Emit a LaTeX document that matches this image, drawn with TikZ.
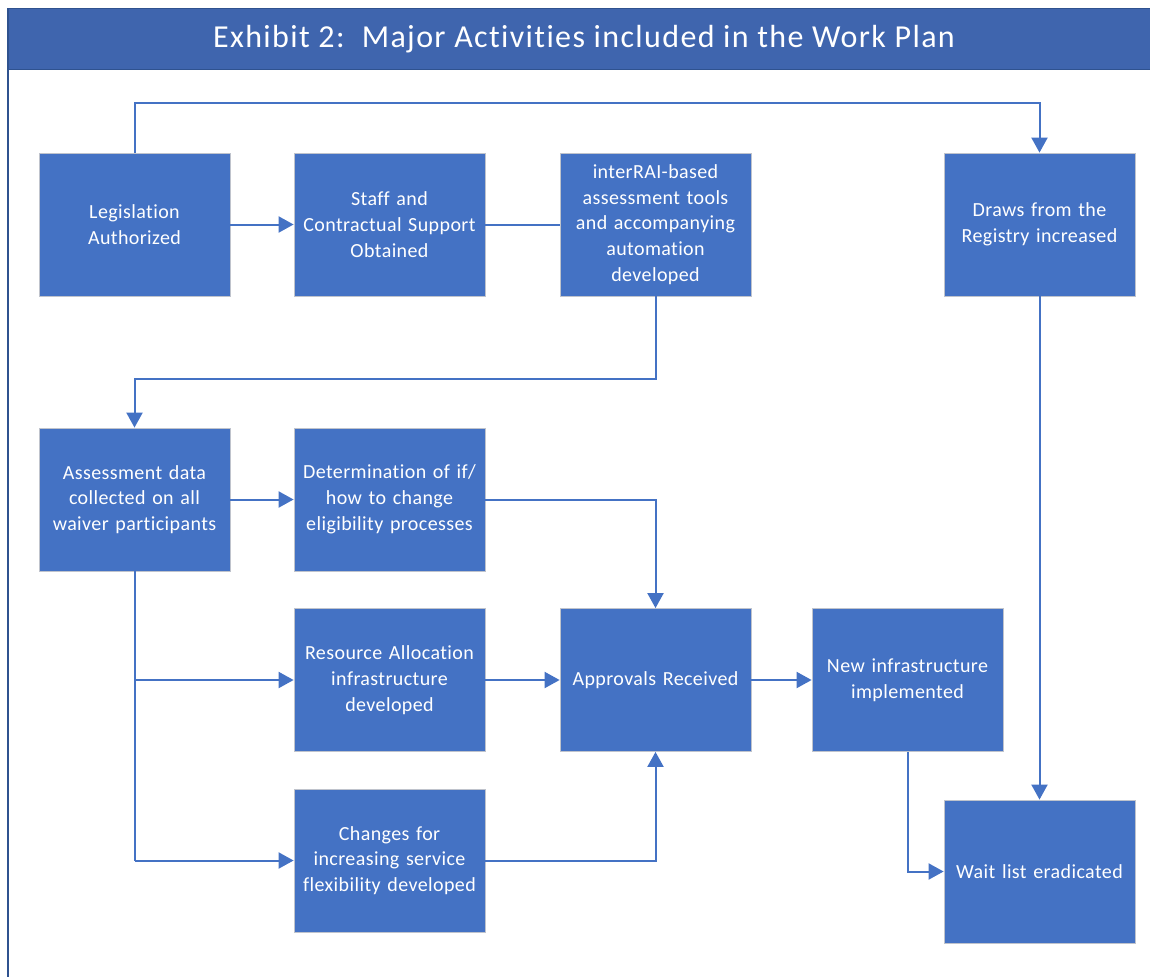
\documentclass[tikz,border=0pt]{standalone}
\usepackage{fontspec}
\setmainfont{Carlito}[LetterSpace=2, Ligatures=NoCommon]
\newfontfamily\titlefont{Carlito}[LetterSpace=4.3, Ligatures=NoCommon]
\usetikzlibrary{arrows.meta}
\definecolor{boxblue}{HTML}{4472C4}
\definecolor{titleblue}{HTML}{3F65AE}
\definecolor{titleedge}{HTML}{2F528F}
\definecolor{boxedge}{HTML}{BFC3CC}
\tikzset{
  stepbox/.style={draw=boxedge, line width=0.8pt, fill=boxblue, text=white,
    minimum width=191pt, minimum height=143pt, inner sep=0pt, align=center,
    font=\fontsize{20}{25.8}\selectfont, text width=189pt},
  conn/.style={draw=boxblue, line width=2pt},
  arr/.style={conn, -{Triangle[length=15pt,width=16pt]}},
}
\begin{document}
\begin{tikzpicture}[x=1pt,y=-1pt]
\useasboundingbox (0,0) rectangle (1150,977);
% frame
\draw[titleedge, line width=1.5pt] (8,8) -- (8,977);
\node[draw=titleedge, fill=titleblue, line width=1pt, anchor=north west, minimum width=1150pt, minimum height=61pt, inner sep=0pt] (titlebar) at (8,8) {};
\node[text=white, font=\titlefont\fontsize{32}{38}\selectfont] (title) at (584,39) {Exhibit 2:\ \ Major Activities included in the Work Plan};
% boxes
\node[stepbox] (leg) at (134.5,224.5) {Legislation\\Authorized};
\node[stepbox] (staff) at (389.5,224.5) {Staff and\\Contractual Support\\Obtained};
\node[stepbox] (inter) at (655.5,224.5) {interRAI-based\\assessment tools\\and accompanying\\automation\\developed};
\node[stepbox] (draws) at (1039.5,224.5) {Draws from the\\Registry increased};
\node[stepbox] (assess) at (134.5,499.5) {Assessment data\\collected on all\\waiver participants};
\node[stepbox] (determ) at (389.5,499.5) {Determination of if/\\how to change\\eligibility processes};
\node[stepbox] (resource) at (389.5,680) {Resource Allocation\\infrastructure\\developed};
\node[stepbox] (approvals) at (655.5,680) {Approvals Received};
\node[stepbox] (newinfra) at (907.5,680) {New infrastructure\\implemented};
\node[stepbox] (changes) at (389.5,860.5) {Changes for\\increasing service\\flexibility developed};
\node[stepbox] (wait) at (1039.5,871.5) {Wait list eradicated};
% connectors
\coordinate (c1) at (134.5,103);
\coordinate (c2) at (1039.5,103);
\draw[arr] (leg.north) -- (c1) -- (c2) -- (draws.north);
\draw[arr] (leg.east) -- (staff.west);
\draw[conn] (staff.east) -- (inter.west);
\coordinate (c3) at (655.5,379);
\coordinate (c4) at (134.5,379);
\draw[arr] (inter.south) -- (c3) -- (c4) -- (assess.north);
\draw[arr] (assess.east) -- (determ.west);
\coordinate (c5) at (655.5,499.5);
\draw[arr] (determ.east) -- (c5) -- (approvals.north);
\coordinate (c6) at (134.5,680);
\coordinate (c7) at (134.5,860.5);
\draw[conn] (assess.south) -- (c7);
\draw[arr] (c6) -- (resource.west);
\draw[arr] (c7) -- (changes.west);
\draw[arr] (resource.east) -- (approvals.west);
\coordinate (c8) at (655.5,860.5);
\draw[arr] (changes.east) -- (c8) -- (approvals.south);
\draw[arr] (approvals.east) -- (newinfra.west);
\coordinate (c9) at (907.5,871.5);
\draw[arr] (newinfra.south) -- (c9) -- (wait.west);
\draw[arr] (draws.south) -- (wait.north);
\end{tikzpicture}
\end{document}
